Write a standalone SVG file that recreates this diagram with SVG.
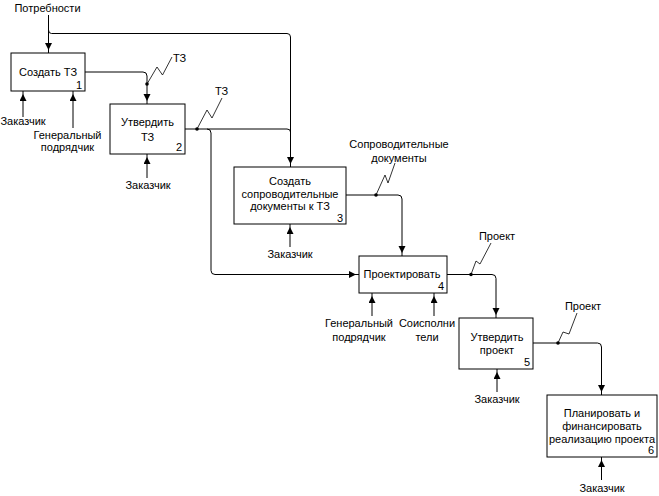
<svg xmlns="http://www.w3.org/2000/svg" width="659" height="496" viewBox="0 0 659 496">
<defs>
<marker id="ah" markerUnits="userSpaceOnUse" markerWidth="12" markerHeight="8" refX="10" refY="3.5" orient="auto">
<path d="M0,0 L7,3.5 L0,7 Z" fill="#000"/>
</marker>
<style>
text{font-family:"Liberation Sans",Arial,sans-serif;font-size:11px;fill:#000}
.c{text-anchor:middle}
.n{text-anchor:end}
.box{fill:#fff;stroke:#000;stroke-width:1}
.ln{fill:none;stroke:#000;stroke-width:1}
.arr{fill:none;stroke:#000;stroke-width:1;marker-end:url(#ah)}
.sq{fill:none;stroke:#000;stroke-width:0.8}
.dot{fill:#000}
</style>
</defs>
<rect width="659" height="496" fill="#fff"/>

<g id="connectors">
<!-- Потребности -->
<path class="arr" d="M48.5,15 V53"/>
<path class="arr" d="M48.5,30 Q48.5,33.5 51.5,33.5 H287 Q290.5,33.5 290.5,37 V167"/>
<!-- box1 output -->
<path class="arr" d="M85,72 H143 Q147,72 147,76 V104"/>
<circle class="dot" cx="147" cy="84" r="1.8"/>
<path class="sq" d="M147,84 L157,67 L162.5,75 L172,57"/>
<!-- box2 output -->
<path class="ln" d="M185,129 H287 Q290.5,129 290.5,132"/>
<path class="arr" d="M207,129 Q211,129 211,133 V270.5 Q211,274.5 215,274.5 H359"/>
<circle class="dot" cx="197" cy="129" r="1.8"/>
<path class="sq" d="M197,129 L207,110 L212,118 L222,98"/>
<!-- box3 output -->
<path class="arr" d="M346,195 H398 Q402,195 402,199 V256"/>
<circle class="dot" cx="376" cy="195" r="1.8"/>
<path class="sq" d="M376,195 L385,175 L388,183 L395,163"/>
<!-- box4 output -->
<path class="arr" d="M447,274.5 H492 Q496,274.5 496,278.5 V318"/>
<circle class="dot" cx="471" cy="274.5" r="1.8"/>
<path class="sq" d="M471,274.5 L476,261 L480,264 L491,243"/>
<!-- box5 output -->
<path class="arr" d="M533,343 H597.5 Q601.5,343 601.5,347 V395"/>
<circle class="dot" cx="558" cy="343" r="1.8"/>
<path class="sq" d="M558,343 L563,332 L569,334 L577,313"/>
<!-- mechanisms -->
<path class="arr" d="M23,117 V91"/>
<path class="arr" d="M73,128 V91"/>
<path class="arr" d="M147,178 V154"/>
<path class="arr" d="M290,247 V224"/>
<path class="arr" d="M372,316 V293"/>
<path class="arr" d="M434,316 V293"/>
<path class="arr" d="M497,392 V369"/>
<path class="arr" d="M601.5,480 V457"/>
</g>

<g id="labels">
<text class="c" x="47.5" y="12">Потребности</text>
<text x="173" y="62">ТЗ</text>
<text x="215" y="95">ТЗ</text>
<text class="c" x="399" y="148">Сопроводительные</text>
<text class="c" x="399" y="162">документы</text>
<text class="c" x="497" y="240">Проект</text>
<text class="c" x="583" y="310">Проект</text>
<text class="c" x="23" y="125">Заказчик</text>
<text class="c" x="67.5" y="139">Генеральный</text>
<text class="c" x="67.5" y="151">подрядчик</text>
<text class="c" x="148" y="189">Заказчик</text>
<text class="c" x="290" y="258">Заказчик</text>
<text class="c" x="359" y="327">Генеральный</text>
<text class="c" x="359" y="341">подрядчик</text>
<text class="c" x="427" y="327">Соисполни</text>
<text class="c" x="427" y="341">тели</text>
<text class="c" x="497" y="403">Заказчик</text>
<text class="c" x="602" y="492">Заказчик</text>
</g>

<g id="node1">
<rect class="box" x="11" y="53" width="74" height="38"/>
<text class="c" x="48" y="76">Создать ТЗ</text>
<text class="n" x="82" y="89">1</text>
</g>
<g id="node2">
<rect class="box" x="110" y="104" width="75" height="50"/>
<text class="c" x="147.5" y="126">Утвердить</text>
<text class="c" x="147.5" y="141">ТЗ</text>
<text class="n" x="182" y="151">2</text>
</g>
<g id="node3">
<rect class="box" x="234" y="167" width="112" height="57"/>
<text class="c" x="290" y="185">Создать</text>
<text class="c" x="290" y="197.5">сопроводительные</text>
<text class="c" x="290" y="210">документы к ТЗ</text>
<text class="n" x="343" y="222">3</text>
</g>
<g id="node4">
<rect class="box" x="359" y="256" width="88" height="37"/>
<text class="c" x="402" y="278">Проектировать</text>
<text class="n" x="444" y="290">4</text>
</g>
<g id="node5">
<rect class="box" x="459" y="318" width="74" height="51"/>
<text class="c" x="497" y="341">Утвердить</text>
<text class="c" x="497" y="354">проект</text>
<text class="n" x="530" y="366">5</text>
</g>
<g id="node6">
<rect class="box" x="547" y="395" width="110" height="62"/>
<text class="c" x="602" y="417">Планировать и</text>
<text class="c" x="602" y="430">финансировать</text>
<text class="c" x="602" y="443">реализацию проекта</text>
<text class="n" x="654" y="454">6</text>
</g>
</svg>
